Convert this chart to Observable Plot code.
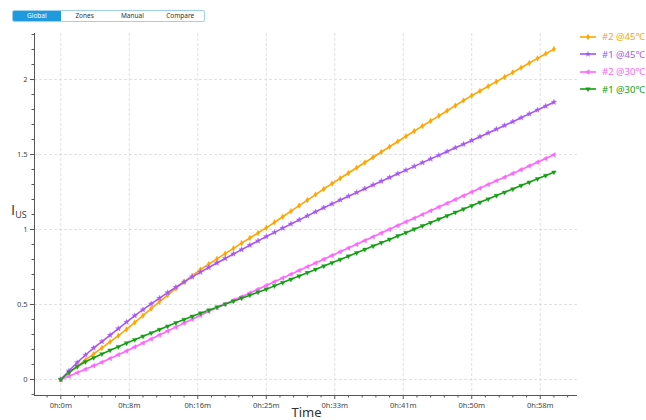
<!DOCTYPE html>
<html>
<head>
<meta charset="utf-8">
<script src="https://cdn.jsdelivr.net/npm/d3@7"></script>
<script src="https://cdn.jsdelivr.net/npm/@observablehq/plot@0.6"></script>
<style>
  body { margin: 0; background: #fff; font-family: "Noto Sans", "Open Sans", sans-serif; }
  #wrap { position: relative; width: 646px; height: 420px; overflow: hidden; }
  #tabs { position: absolute; left: 12px; top: 10px; width: 193px; height: 12px; box-sizing: border-box;
          border: 1px solid #9fd0ef; border-radius: 2px; display: flex; overflow: hidden; }
  #tabs div { flex: 1; font-size: 6.5px; line-height: 10px; text-align: center; color: #333; }
  #tabs div.on { background: #1f9ade; color: #fff; }
  #legend { position: absolute; left: 579px; top: 28px; }
  .item { display: flex; align-items: center; height: 17.5px; font-size: 9.5px; white-space: nowrap; }
  .item svg { margin-right: 5px; }
  #ylab { position: absolute; left: 11px; top: 202px; font-family: "Open Sans", sans-serif; font-size: 15px; color: #333; line-height: 1; }
  #ylab sub { font-size: 9px; vertical-align: -3px; }
  #xlab { position: absolute; left: 0; width: 613px; text-align: center; top: 406px; font-size: 13px; line-height: 13px; color: #333; }
  #wrap > svg { position: absolute; left: 0; top: 0; }
</style>
</head>
<body>
<div id="wrap">
  <div id="tabs"><div class="on">Global</div><div>Zones</div><div>Manual</div><div>Compare</div></div>
  <div id="ylab">I<sub>US</sub></div>
  <div id="xlab">Time</div>
  <div id="legend"></div>
</div>
<script>
// Series names, colours and marker shapes
const series = ["#2 @45℃", "#1 @45℃", "#2 @30℃", "#1 @30℃"];
const colors = ["#ffa500", "#a855f7", "#ff66ff", "#12a012"];
const symbols = ["diamond", "star", "triangle", "triangle"];
const rotations = [0, 0, -90, 180];

// Sample times in seconds (one reading per minute, 0 to 60 min)
const times = d3.range(0, 3601, 60);

// Readings per series
const unit2at45 = [0, 0.045, 0.088, 0.130, 0.170, 0.210, 0.251, 0.292, 0.334, 0.380, 0.426, 0.472, 0.518, 0.563, 0.607, 0.650,
  0.692, 0.733, 0.769, 0.804, 0.839, 0.874, 0.909, 0.943, 0.977, 1.011, 1.048, 1.085, 1.122, 1.159, 1.196, 1.233, 1.270,
  1.306, 1.342, 1.377, 1.412, 1.447, 1.482, 1.517, 1.552, 1.587, 1.622, 1.656, 1.690, 1.724, 1.758, 1.792, 1.826, 1.860,
  1.893, 1.924, 1.955, 1.986, 2.017, 2.048, 2.079, 2.110, 2.141, 2.172, 2.203];
const unit1at45 = [0, 0.058, 0.113, 0.163, 0.210, 0.253, 0.295, 0.339, 0.383, 0.425, 0.465, 0.504, 0.542, 0.579, 0.615, 0.650,
  0.684, 0.716, 0.747, 0.777, 0.807, 0.837, 0.866, 0.895, 0.924, 0.953, 0.981, 1.009, 1.037, 1.064, 1.091, 1.118, 1.145,
  1.171, 1.197, 1.222, 1.247, 1.272, 1.297, 1.322, 1.347, 1.372, 1.396, 1.421, 1.446, 1.471, 1.495, 1.520, 1.545, 1.569,
  1.594, 1.619, 1.644, 1.669, 1.694, 1.719, 1.745, 1.771, 1.797, 1.823, 1.849];
const unit2at30 = [0, 0.022, 0.045, 0.068, 0.092, 0.115, 0.140, 0.165, 0.190, 0.217, 0.243, 0.270, 0.296, 0.323, 0.349, 0.376,
  0.402, 0.428, 0.453, 0.478, 0.503, 0.528, 0.552, 0.577, 0.602, 0.627, 0.652, 0.677, 0.702, 0.727, 0.752, 0.777, 0.802,
  0.827, 0.852, 0.876, 0.901, 0.926, 0.951, 0.976, 1.001, 1.026, 1.051, 1.075, 1.100, 1.125, 1.150, 1.175, 1.200, 1.225,
  1.250, 1.275, 1.300, 1.325, 1.349, 1.374, 1.399, 1.424, 1.449, 1.474, 1.498];
const unit1at30 = [0, 0.048, 0.086, 0.118, 0.145, 0.170, 0.195, 0.218, 0.243, 0.265, 0.288, 0.310, 0.333, 0.355, 0.378, 0.400,
  0.421, 0.442, 0.462, 0.482, 0.502, 0.522, 0.542, 0.562, 0.582, 0.602, 0.624, 0.646, 0.668, 0.690, 0.712, 0.734, 0.756,
  0.778, 0.800, 0.822, 0.845, 0.867, 0.890, 0.912, 0.934, 0.957, 0.979, 1.002, 1.024, 1.046, 1.069, 1.091, 1.114, 1.136,
  1.158, 1.181, 1.203, 1.226, 1.248, 1.270, 1.293, 1.315, 1.338, 1.360, 1.382];

// Axis ticks and labels
const xMajor = [0, 500, 1000, 1500, 2000, 2500, 3000, 3500];
const xLabels = ["0h:0m", "0h:8m", "0h:16m", "0h:25m", "0h:33m", "0h:41m", "0h:50m", "0h:58m"];
const xMinor = [-100, 100, 200, 300, 400, 600, 700, 800, 900, 1100, 1200, 1300, 1400, 1600, 1700, 1800, 1900,
  2100, 2200, 2300, 2400, 2600, 2700, 2800, 2900, 3100, 3200, 3300, 3400, 3600, 3700];
const yMajor = [0, 0.5, 1, 1.5, 2];
const yLabels = ["0", "0.5", "1", "1.5", "2"];
const yMinor = [-0.1, 0.1, 0.2, 0.3, 0.4, 0.6, 0.7, 0.8, 0.9, 1.1, 1.2, 1.3, 1.4, 1.6, 1.7, 1.8, 1.9, 2.1, 2.2, 2.3];

const xDomain = [-192, 3772];
const yDomain = [-0.107, 2.307];

const readings = [unit2at45, unit1at45, unit2at30, unit1at30];
const data = series.flatMap((name, i) => readings[i].map((v, j) => ({ name, t: times[j], v, rot: rotations[i] })));

const xLabelOf = new Map(xMajor.map((d, i) => [d, xLabels[i]]));
const yLabelOf = new Map(yMajor.map((d, i) => [d, yLabels[i]]));
const axisColor = "#555";
const gridStyle = { stroke: "#e0e0e0", strokeOpacity: 1, strokeDasharray: "3,2", strokeWidth: 1 };

const chart = Plot.plot({
  width: 646,
  height: 420,
  marginLeft: 34,
  marginRight: 69,
  marginTop: 33,
  marginBottom: 25,
  style: { fontFamily: "'Noto Sans', 'Open Sans', sans-serif", fontSize: "7.5px", color: "#444", background: "transparent" },
  x: { domain: xDomain },
  y: { domain: yDomain },
  color: { domain: series, range: colors },
  symbol: { domain: series, range: symbols },
  marks: [
    Plot.gridX(xMajor, gridStyle),
    Plot.gridY(yMajor, gridStyle),
    Plot.ruleX([xDomain[0]], { stroke: axisColor }),
    Plot.ruleY([yDomain[0]], { stroke: axisColor }),
    Plot.axisX(xMajor, { tickSize: 4, tickPadding: 3, stroke: axisColor, tickFormat: d => xLabelOf.get(d), label: null }),
    Plot.axisX(xMinor, { tickSize: 2.5, stroke: axisColor, text: null, label: null }),
    Plot.axisY(yMajor, { tickSize: 4, tickPadding: 3, stroke: axisColor, tickFormat: d => yLabelOf.get(d), label: null }),
    Plot.axisY(yMinor, { tickSize: 2.5, stroke: axisColor, text: null, label: null }),
    Plot.line(data, { x: "t", y: "v", z: "name", stroke: "name", strokeWidth: 1.6 }),
    Plot.dot(data, { x: "t", y: "v", fill: "name", stroke: "name", strokeWidth: 0.4, symbol: "name", rotate: "rot", r: 1.7 })
  ]
});
document.getElementById("wrap").prepend(chart);

// Legend entries: short line with the series marker, then the series name
const legend = d3.select("#legend");
series.forEach((name, i) => {
  const item = legend.append("div").attr("class", "item").style("color", colors[i]);
  const sw = item.append("svg").attr("width", 18).attr("height", 10);
  sw.append("line").attr("x1", 1).attr("x2", 17).attr("y1", 5).attr("y2", 5)
    .attr("stroke", colors[i]).attr("stroke-width", 1.6);
  const symType = { diamond: d3.symbolDiamond, star: d3.symbolStar, triangle: d3.symbolTriangle }[symbols[i]];
  sw.append("path").attr("d", d3.symbol(symType, 12)())
    .attr("transform", `translate(9,5) rotate(${rotations[i]})`).attr("fill", colors[i]);
  item.append("span").text(name);
});
</script>
</body>
</html>
